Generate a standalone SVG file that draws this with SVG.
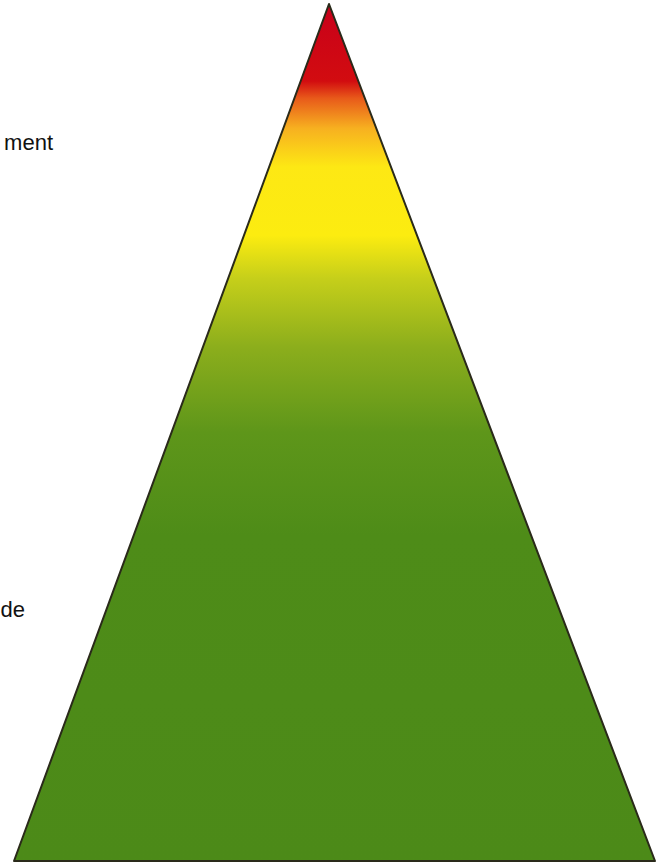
<svg xmlns="http://www.w3.org/2000/svg" width="657" height="864" viewBox="0 0 657 864">
<style>
.lbl{font-family:"Liberation Sans",Arial,sans-serif;font-size:22px;fill:#111;text-anchor:end}
</style>
<defs>
<linearGradient id="g" x1="0" y1="4" x2="0" y2="861" gradientUnits="userSpaceOnUse">
<stop offset="0" stop-color="#c8001a"/>
<stop offset="0.09" stop-color="#d20c10"/>
<stop offset="0.11" stop-color="#e85a1a"/>
<stop offset="0.145" stop-color="#f7b020"/>
<stop offset="0.19" stop-color="#fde814"/>
<stop offset="0.27" stop-color="#fcec10"/>
<stop offset="0.32" stop-color="#c6cf1a"/>
<stop offset="0.4" stop-color="#8cae1c"/>
<stop offset="0.5" stop-color="#5e961a"/>
<stop offset="0.62" stop-color="#4e8c18"/>
<stop offset="1" stop-color="#4c8a18"/>
</linearGradient>
</defs>
<rect width="657" height="864" fill="#fff"/>
<g id="pyramid">
<polygon points="329,4 655,861 14,861" fill="url(#g)" stroke="#2a2a1a" stroke-width="2" stroke-linejoin="round"/>
</g>
<g id="label-top"><text class="lbl" x="53" y="150">ment</text></g>
<g id="label-bottom"><text class="lbl" x="25" y="617">de</text></g>
<g id="connectors"></g>
</svg>
